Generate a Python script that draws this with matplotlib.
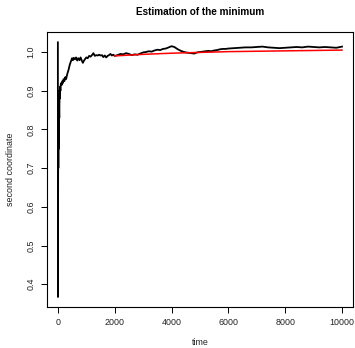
import matplotlib
matplotlib.use("Agg")
import matplotlib.pyplot as plt

plt.rcParams['font.family'] = ['Liberation Sans', 'DejaVu Sans']

# Black trace: running estimate (time, value)
time_black = [0, 4, 8, 12, 16, 20, 25, 30, 35, 40, 50, 60, 70, 80, 90, 100, 120, 140,
              160, 180, 200, 230, 260, 290, 320, 350, 380, 410, 440, 470, 500, 530,
              560, 600, 640, 680, 720, 760, 800, 840, 880, 920, 960, 1000, 1050, 1100,
              1150, 1200, 1250, 1300, 1350, 1400, 1450, 1500, 1550, 1600, 1650, 1700,
              1750, 1800, 1850, 1900, 1950, 2000, 2100, 2200, 2300, 2400, 2500, 2600,
              2700, 2800, 2900, 3000, 3100, 3200, 3300, 3400, 3500, 3600, 3700, 3800,
              3900, 4000, 4100, 4200, 4300, 4400, 4500, 4600, 4700, 4800, 4900, 5000,
              5100, 5200, 5300, 5400, 5500, 5600, 5700, 5800, 5900, 6000, 6200, 6400,
              6600, 6800, 7000, 7200, 7400, 7600, 7800, 8000, 8200, 8400, 8600, 8800,
              9000, 9200, 9400, 9600, 9800, 10000]
value_black = [1.025, 0.367, 0.62, 0.80, 0.70, 0.83, 0.75, 0.84, 0.78, 0.86, 0.83, 0.90,
               0.88, 0.91, 0.90, 0.915, 0.92, 0.915, 0.925, 0.92, 0.93, 0.925, 0.935,
               0.93, 0.94, 0.948, 0.955, 0.965, 0.972, 0.978, 0.984, 0.979, 0.985, 0.981,
               0.986, 0.978, 0.984, 0.979, 0.986, 0.978, 0.972, 0.978, 0.982, 0.986,
               0.984, 0.99, 0.988, 0.992, 0.997, 0.99, 0.992, 0.991, 0.993, 0.991,
               0.992, 0.987, 0.991, 0.986, 0.99, 0.992, 0.995, 0.991, 0.993, 0.99,
               0.992, 0.995, 0.994, 0.997, 0.995, 0.992, 0.994, 0.993, 0.996, 0.999,
               1.0, 1.002, 1.001, 1.004, 1.006, 1.005, 1.008, 1.009, 1.012, 1.015,
               1.013, 1.008, 1.004, 1.001, 0.999, 0.998, 0.997, 0.996, 0.999, 1.0,
               1.001, 1.002, 1.003, 1.002, 1.004, 1.005, 1.007, 1.008, 1.008, 1.009,
               1.01, 1.011, 1.012, 1.012, 1.013, 1.014, 1.012, 1.011, 1.01, 1.011,
               1.012, 1.013, 1.012, 1.014, 1.013, 1.012, 1.013, 1.012, 1.011, 1.014]

# Red trace: smoothed estimate
time_red = [2000, 3000, 4000, 5000, 6000, 7000, 8000, 9000, 10000]
value_red = [0.990, 0.994, 0.997, 0.999, 1.001, 1.002, 1.003, 1.004, 1.005]

x_ticks = [0, 2000, 4000, 6000, 8000, 10000]
y_ticks = [0.4, 0.5, 0.6, 0.7, 0.8, 0.9, 1.0]

fig = plt.figure(figsize=(3.55, 3.48), dpi=100)
ax = fig.add_axes([0.131, 0.118, 0.8645, 0.790])

ax.plot(time_black, value_black, color='black', lw=1.3, solid_joinstyle='round')
ax.plot(time_red, value_red, color='red', lw=1.1)

ax.set_xlim(-400, 10400)
ax.set_ylim(0.3413, 1.0517)
ax.set_xticks(x_ticks)
ax.set_xticklabels([str(t) for t in x_ticks])
ax.set_yticks(y_ticks)
ax.set_yticklabels([f"{v:.1f}" for v in y_ticks], rotation=90, va='center')

for s in ax.spines.values():
    s.set_linewidth(0.8)
ax.tick_params(axis='both', direction='out', length=4, width=0.7, labelsize=6.4,
               pad=4, labelcolor='#222222')

ax.set_xlabel('time', fontsize=6.4, labelpad=8, color='#222222')
ax.set_ylabel('second coordinate', fontsize=6.4, labelpad=8, color='#222222')
ax.set_title('Estimation of the minimum', fontsize=7.2, fontweight='bold', pad=12)

fig.savefig('out.png', dpi=100)
